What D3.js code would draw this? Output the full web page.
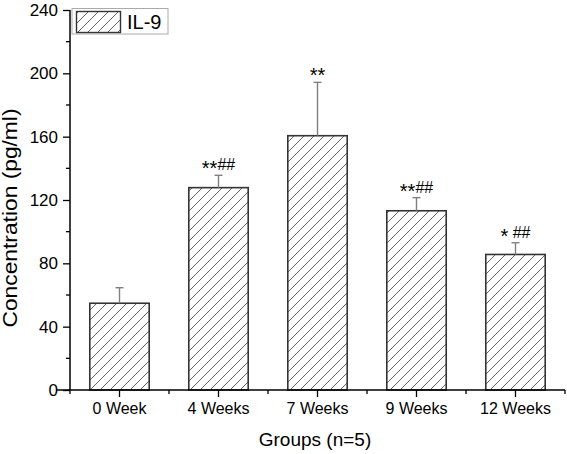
<!DOCTYPE html>
<html>
<head>
<meta charset="utf-8">
<script src="https://cdn.jsdelivr.net/npm/d3@7"></script>
<style>
  html, body { margin: 0; padding: 0; background: #fff; }
  svg { display: block; font-family: Arial, "Liberation Sans", sans-serif; }
</style>
</head>
<body>
<svg id="chart" width="567" height="454"></svg>
<script>
const categories = ["0 Week", "4 Weeks", "7 Weeks", "9 Weeks", "12 Weeks"];
const means = [54.8, 127.8, 160.6, 113.2, 85.6];
const errors = [9.8, 7.8, 33.7, 8.3, 7.4];
const stars = ["", "**", "**", "**", "*"];
const hashes = ["", "##", "", "##", "##"];
const yTicks = [0, 40, 80, 120, 160, 200, 240];
const yMinorTicks = [20, 60, 100, 140, 180, 220];
const seriesName = "IL-9";

const svg = d3.select("#chart");
const pLeft = 70, pRight = 565, pTop = 10, pBottom = 390;
const FONT = "Arial, 'Liberation Sans', sans-serif";

const x = d3.scaleBand().domain(categories).range([pLeft, pRight]).paddingInner(0.4).paddingOuter(0.2);
const y = d3.scaleLinear().domain([0, 240]).range([pBottom, pTop]);

// hatch pattern
const defs = svg.append("defs");
const pat = defs.append("pattern").attr("id", "hatch").attr("patternUnits", "userSpaceOnUse")
  .attr("width", 10).attr("height", 10);
pat.append("rect").attr("width", 10).attr("height", 10).attr("fill", "#fff");
pat.append("path").attr("d", "M-1,1 l2,-2 M0,10 l10,-10 M9,11 l2,-2")
  .attr("stroke", "#555").attr("stroke-width", 0.9);

// bars
svg.append("g").selectAll("rect").data(categories).join("rect")
  .attr("x", d => x(d)).attr("width", x.bandwidth())
  .attr("y", (d, i) => y(means[i])).attr("height", (d, i) => y(0) - y(means[i]))
  .attr("fill", "url(#hatch)").attr("stroke", "#333").attr("stroke-width", 1.6);

// error bars
const eg = svg.append("g").attr("stroke", "#808080").attr("stroke-width", 1.4);
categories.forEach((c, i) => {
  const cx = x(c) + x.bandwidth() / 2;
  eg.append("line").attr("x1", cx).attr("x2", cx).attr("y1", y(means[i])).attr("y2", y(means[i] + errors[i]));
  eg.append("line").attr("x1", cx - 4).attr("x2", cx + 4).attr("y1", y(means[i] + errors[i])).attr("y2", y(means[i] + errors[i]));
});

// significance labels
categories.forEach((c, i) => {
  const cx = x(c) + x.bandwidth() / 2;
  const t = svg.append("text").attr("x", cx).attr("y", y(means[i] + errors[i]) - 5)
    .attr("text-anchor", "middle").attr("font-size", 16).attr("fill", "#000");
  if (stars[i]) t.append("tspan").attr("dy", 5).attr("font-size", 20).text(stars[i]);
  if (hashes[i]) t.append("tspan").attr("dy", stars[i] ? -5 : 0).text((stars[i] === "*" ? " " : "") + hashes[i]);
});

// y axis
const yAxis = svg.append("g").attr("transform", `translate(${pLeft},0)`)
  .call(d3.axisLeft(y).tickValues(yTicks).tickSize(7).tickPadding(5).tickSizeOuter(0));
yAxis.select(".domain").remove();
yAxis.selectAll(".tick text").attr("font-size", 17).attr("font-family", FONT).attr("fill", "#000");
yAxis.selectAll(".tick line").attr("stroke", "#000").attr("stroke-width", 1.3);
svg.append("g").selectAll("line").data(yMinorTicks).join("line")
  .attr("x1", pLeft - 4).attr("x2", pLeft).attr("y1", d => y(d)).attr("y2", d => y(d))
  .attr("stroke", "#000").attr("stroke-width", 1.3);
svg.append("line").attr("x1", pLeft).attr("x2", pLeft).attr("y1", pTop).attr("y2", pBottom)
  .attr("stroke", "#000").attr("stroke-width", 1.5);

// x axis
const xAxis = svg.append("g").attr("transform", `translate(0,${pBottom})`)
  .call(d3.axisBottom(x).tickSize(7).tickPadding(6).tickSizeOuter(0));
xAxis.select(".domain").remove();
xAxis.selectAll(".tick text").attr("font-size", 16).attr("font-family", FONT).attr("fill", "#000");
xAxis.selectAll(".tick line").attr("stroke", "#000").attr("stroke-width", 1.3);
const bounds = d3.range(categories.length + 1).map(i => pLeft + i * x.step());
svg.append("g").selectAll("line").data(bounds).join("line")
  .attr("x1", d => d).attr("x2", d => d).attr("y1", pBottom).attr("y2", pBottom + 4)
  .attr("stroke", "#000").attr("stroke-width", 1.3);
svg.append("line").attr("x1", pLeft - 13).attr("x2", pRight).attr("y1", pBottom).attr("y2", pBottom)
  .attr("stroke", "#000").attr("stroke-width", 1.5);

// axis titles
svg.append("text").attr("x", 315).attr("y", 446).attr("text-anchor", "middle")
  .attr("font-size", 19).attr("fill", "#000").text("Groups (n=5)");
svg.append("text").attr("transform", `translate(16.5,218) rotate(-90)`)
  .attr("text-anchor", "middle").attr("font-size", 20)
  .attr("textLength", 219).attr("lengthAdjust", "spacingAndGlyphs")
  .attr("fill", "#000").text("Concentration (pg/ml)");

// legend
const lg = svg.append("g");
lg.append("rect").attr("x", 72).attr("y", 8.5).attr("width", 96).attr("height", 25.5)
  .attr("fill", "#fff").attr("stroke", "#aaa").attr("stroke-width", 1);
lg.append("rect").attr("x", 76.5).attr("y", 11.5).attr("width", 44).attr("height", 21)
  .attr("fill", "url(#hatch)").attr("stroke", "#333").attr("stroke-width", 1.4);
lg.append("text").attr("x", 127).attr("y", 29).attr("font-size", 20).attr("fill", "#000").text(seriesName);
</script>
</body>
</html>
